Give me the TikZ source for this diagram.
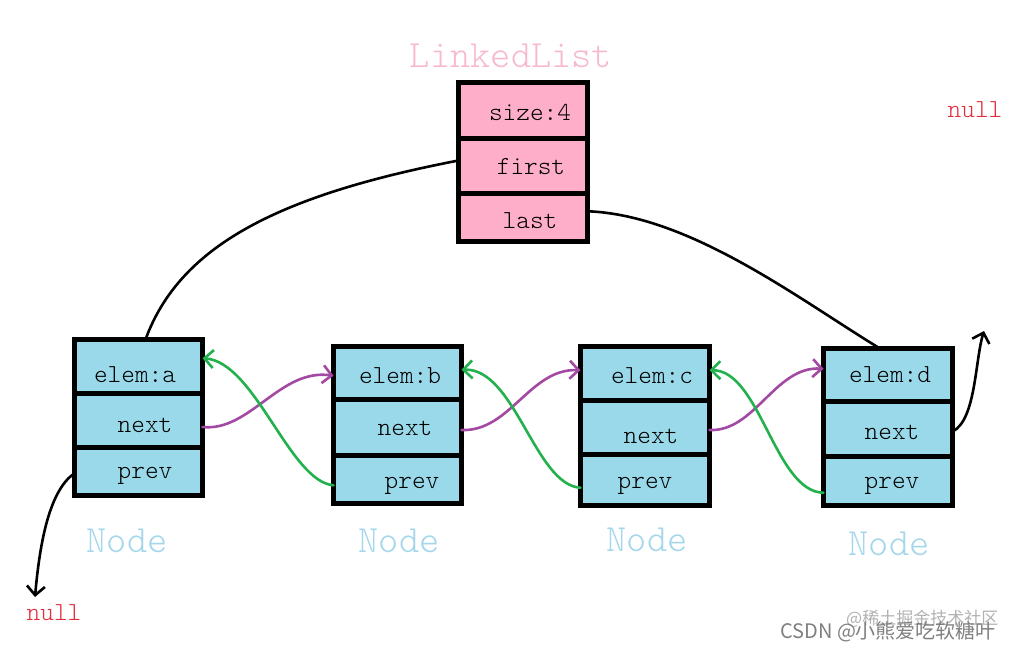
\documentclass[tikz,border=0pt]{standalone}
\usepackage{fontspec}
\setmonofont{lmmonolt10-regular.otf}
\newfontfamily\cjkfont{Noto Sans CJK SC}
\usetikzlibrary{arrows.meta}
\definecolor{pinkfill}{RGB}{255,174,201}
\definecolor{bluefill}{RGB}{153,217,234}
\definecolor{pinktext}{RGB}{248,185,205}
\definecolor{bluetext}{RGB}{165,215,235}
\definecolor{nullred}{RGB}{225,45,60}
\definecolor{ppurple}{RGB}{163,73,164}
\definecolor{pgreen}{RGB}{34,177,76}
\newcommand\cellat[6]{\node[#6, minimum width={#3-#2}, minimum height={#5-#4}] (#1) at ({(#2+#3)/2},{(#4+#5)/2}) {};}
\begin{document}
\begin{tikzpicture}[x=1pt,y=-1pt,
  cellbase/.style={draw=black, line width=5pt, inner sep=0pt, outer sep=0pt, rectangle},
  pcell/.style={cellbase, fill=pinkfill},
  bcell/.style={cellbase, fill=bluefill},
  celltext/.style={font=\ttfamily\fontsize{26}{30}\selectfont, inner sep=0pt, text=black},
  title/.style={font=\ttfamily\fontsize{38.5}{42}\selectfont, inner sep=0pt},
  nulltext/.style={font=\ttfamily\fontsize{26}{30}\selectfont, inner sep=0pt, text=nullred},
  link/.style={line width=2.6pt, line cap=round},
  arr/.style={link, -{Straight Barb[length=9pt,width=18pt]}},
  wm/.style={font=\cjkfont\fontsize{17}{20}\selectfont, inner sep=0pt}
]
\useasboundingbox (0,0) rectangle (1022,651);
\fill[white] (0,0) rectangle (1022,651);

% LinkedList
\cellat{l1}{458.5}{587.5}{82.5}{138}{pcell}
\cellat{l2}{458.5}{587.5}{138}{193}{pcell}
\cellat{l3}{458.5}{587.5}{193}{241.5}{pcell}
\node[celltext] (tl1) at (530,112) {size:4};
\node[celltext] (tl2) at (531,167) {first};
\node[celltext] (tl3) at (530,221) {last};
\node[title, text=pinktext] (ltitle) at (511,56) {LinkedList};

% Node A
\cellat{a1}{74.5}{202.5}{339.5}{393}{bcell}
\cellat{a2}{74.5}{202.5}{393}{447}{bcell}
\cellat{a3}{74.5}{202.5}{447}{495.5}{bcell}
\node[celltext] (ta1) at (135,375) {elem:a};
\node[celltext] (ta2) at (145,425) {next};
\node[celltext] (ta3) at (145,476) {prev};
% Node B
\cellat{b1}{333.5}{461.5}{346.5}{399}{bcell}
\cellat{b2}{333.5}{461.5}{399}{455}{bcell}
\cellat{b3}{333.5}{461.5}{455}{503.5}{bcell}
\node[celltext] (tb1) at (400,376) {elem:b};
\node[celltext] (tb2) at (405,428) {next};
\node[celltext] (tb3) at (412,486) {prev};
% Node C
\cellat{c1}{580.5}{709.5}{346.5}{400}{bcell}
\cellat{c2}{580.5}{709.5}{400}{454}{bcell}
\cellat{c3}{580.5}{709.5}{454}{505.5}{bcell}
\node[celltext] (tc1) at (652,376) {elem:c};
\node[celltext] (tc2) at (651,436) {next};
\node[celltext] (tc3) at (645,486) {prev};
% Node D
\cellat{d1}{823.5}{952.5}{348.5}{401}{bcell}
\cellat{d2}{823.5}{952.5}{401}{456}{bcell}
\cellat{d3}{823.5}{952.5}{456}{505.5}{bcell}
\node[celltext] (td1) at (890,375) {elem:d};
\node[celltext] (td2) at (892,432) {next};
\node[celltext] (td3) at (892,486) {prev};

% Node labels
\node[title, text=bluetext] (na) at (127,541) {Node};
\node[title, text=bluetext] (nb) at (399,541) {Node};
\node[title, text=bluetext] (nc) at (647,540) {Node};
\node[title, text=bluetext] (nd) at (889,544) {Node};

% nulls
\node[nulltext] (nullr) at (975,110) {null};
\node[nulltext] (nulll) at (54,613) {null};
\coordinate (nulltipl) at (35,597);
\coordinate (nulltipr) at (984,331);

% first / last
\draw[link] ([yshift=5pt]l2.west) .. controls (280,195) and (180,245) .. ([xshift=7pt]a1.north);
\draw[link] ([yshift=6pt]l3.east) .. controls (690,215) and (800,300) .. ([xshift=-8pt]d1.north);

% prev of A -> null, next of D -> null
\draw[arr] ([yshift=-2pt]a3.west) .. controls (50,490) and (40,540) .. (nulltipl);
\draw[arr] ([yshift=-3pt]d2.east) .. controls (976,420) and (975,360) .. (nulltipr);

% next pointers
\draw[arr, draw=ppurple] ([yshift=-7pt]a2.east) .. controls (250,432) and (280,368) .. ([yshift=-3pt]b1.west);
\draw[arr, draw=ppurple] ([yshift=-3pt]b2.east) .. controls (510,432) and (530,368) .. ([yshift=3pt]c1.west);
\draw[arr, draw=ppurple] ([yshift=-3pt]c2.east) .. controls (755,432) and (775,366) .. ([yshift=6pt]d1.west);

% prev pointers
\draw[arr, draw=pgreen] ([yshift=-6pt]b3.west) .. controls (290,482) and (255,362) .. ([yshift=8pt]a1.east);
\draw[arr, draw=pgreen] ([yshift=-8pt]c3.west) .. controls (535,485) and (515,368) .. ([yshift=3pt]b1.east);
\draw[arr, draw=pgreen] ([yshift=-12pt]d3.west) .. controls (775,492) and (760,370) .. ([yshift=3pt]c1.east);

% watermark
\node[wm, text=black!30, anchor=west] (wm1) at (846,619) {@稀土掘金技术社区};
\node[wm, text=black!50, anchor=west, font=\cjkfont\fontsize{20}{22}\selectfont] (wm2) at (780,632) {CSDN @小熊爱吃软糖叶};
\end{tikzpicture}
\end{document}
